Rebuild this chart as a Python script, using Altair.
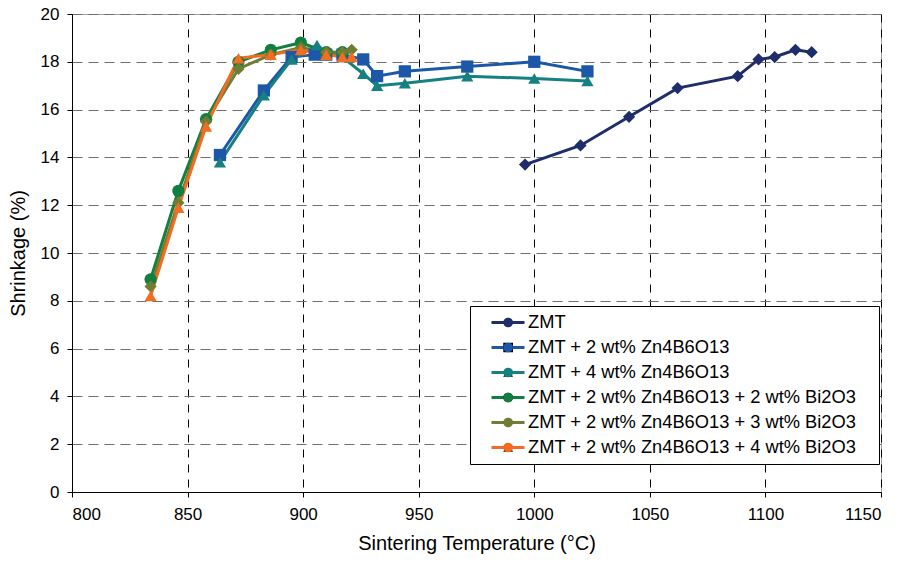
import altair as alt
import pandas as pd

series_names = [
    "ZMT",
    "ZMT + 2 wt% Zn4B6O13",
    "ZMT + 4 wt% Zn4B6O13",
    "ZMT + 2 wt% Zn4B6O13 + 2 wt% Bi2O3",
    "ZMT + 2 wt% Zn4B6O13 + 3 wt% Bi2O3",
    "ZMT + 2 wt% Zn4B6O13 + 4 wt% Bi2O3",
]
colors = ["#1F2D6B", "#1C57A8", "#178080", "#117F40", "#717D32", "#F26C22"]
shapes = ["diamond", "square", "triangle-up", "circle", "diamond", "triangle-up"]

zmt_t = [996, 1020, 1041, 1062, 1088, 1097, 1104, 1113, 1120]
zmt_s = [13.7, 14.5, 15.7, 16.9, 17.4, 18.1, 18.2, 18.5, 18.4]

zn2_t = [864, 883, 895, 905, 910, 917, 926, 932, 944, 971, 1000, 1023]
zn2_s = [14.1, 16.8, 18.2, 18.3, 18.3, 18.3, 18.1, 17.4, 17.6, 17.8, 18.0, 17.6]

zn4_t = [864, 883, 895, 906, 910, 917, 926, 932, 944, 971, 1000, 1023]
zn4_s = [13.8, 16.6, 18.1, 18.7, 18.4, 18.2, 17.5, 17.0, 17.1, 17.4, 17.3, 17.2]

bi2_t = [834, 846, 858, 872, 886, 899, 910, 917]
bi2_s = [8.9, 12.6, 15.6, 18.0, 18.5, 18.8, 18.4, 18.4]

bi3_t = [834, 846, 858, 872, 886, 899, 910, 917, 921]
bi3_s = [8.6, 12.1, 15.5, 17.7, 18.3, 18.6, 18.4, 18.4, 18.5]

bi4_t = [834, 846, 858, 872, 886, 899, 910, 917, 921]
bi4_s = [8.2, 11.9, 15.3, 18.15, 18.3, 18.5, 18.3, 18.2, 18.2]

x_ticks = [800, 850, 900, 950, 1000, 1050, 1100, 1150]
y_ticks = [0, 2, 4, 6, 8, 10, 12, 14, 16, 18, 20]

all_t = [zmt_t, zn2_t, zn4_t, bi2_t, bi3_t, bi4_t]
all_s = [zmt_s, zn2_s, zn4_s, bi2_s, bi3_s, bi4_s]

rows = []
for name, ts, ss in zip(series_names, all_t, all_s):
    for i, (t, s) in enumerate(zip(ts, ss)):
        rows.append({"series": name, "temp": t, "shrink": s, "idx": i})
df = pd.DataFrame(rows)

FONT = "Liberation Sans"

base = alt.Chart(df).encode(
    x=alt.X(
        "temp:Q",
        scale=alt.Scale(domain=[800, 1150], nice=False, zero=False),
        axis=alt.Axis(values=x_ticks, format="d", title="Sintering Temperature (°C)",
                      titleX=404.5, titleY=51, titleBaseline="middle",
                      gridColor="#000000", gridDash=[8, 7]),
    ),
    y=alt.Y(
        "shrink:Q",
        scale=alt.Scale(domain=[0, 20], nice=False),
        axis=alt.Axis(values=y_ticks, format="d", title="Shrinkage (%)",
                      titleX=-54, titleY=239, titleBaseline="middle",
                      titleAngle=270,
                      gridColor="#6E6E6E", gridDash=[10, 6]),
    ),
)

legend_common = dict(
    title=None, orient="none", legendX=398, legendY=292,
    clipHeight=25, rowPadding=0, padding=4,
    labelFont=FONT, labelFontSize=18.3, labelColor="#000000", labelLimit=700,
)

line_legend = alt.Legend(
    symbolType="stroke", symbolSize=1089, symbolStrokeWidth=3,
    symbolOffset=16, labelOffset=2,
    strokeColor="#000000", fillColor="#FFFFFF", zindex=1,
    labelExpr="datum.label + '\u2003\u200b'",
    **legend_common,
)
point_legend = alt.Legend(
    symbolSize=95, symbolStrokeWidth=0, symbolOpacity=1,
    symbolOffset=25, labelOffset=2, zindex=2,
    labelExpr="''",
    **legend_common,
)

lines = base.mark_line(strokeWidth=3).encode(
    color=alt.Color("series:N", scale=alt.Scale(domain=series_names, range=colors),
                    legend=line_legend),
    order="idx:Q",
)
points = base.mark_point(filled=True, opacity=1, size=150).encode(
    color=alt.Color("series:N", scale=alt.Scale(domain=series_names, range=colors),
                    legend=point_legend),
    shape=alt.Shape("series:N", scale=alt.Scale(domain=series_names, range=shapes),
                    legend=point_legend),
)

chart = (
    alt.layer(lines, points)
    .resolve_scale(color="independent")
    .properties(width=809, height=478, autosize="none",
                padding={"left": 64, "top": 6, "right": 18, "bottom": 63})
    .configure_view(stroke="#A0A0A0", strokeWidth=1)
    .configure_axis(
        domainColor="#000000", tickColor="#000000", tickSize=5,
        labelFont=FONT, labelFontSize=17, labelColor="#000000",
        titleFont=FONT, titleFontSize=20, titleFontWeight="normal",
        titleColor="#000000", gridWidth=1,
    )
    .configure_axisX(labelPadding=9)
    .configure_axisY(labelPadding=8)
)

chart.save("out.html", embed_options={"renderer": "svg", "actions": False})
